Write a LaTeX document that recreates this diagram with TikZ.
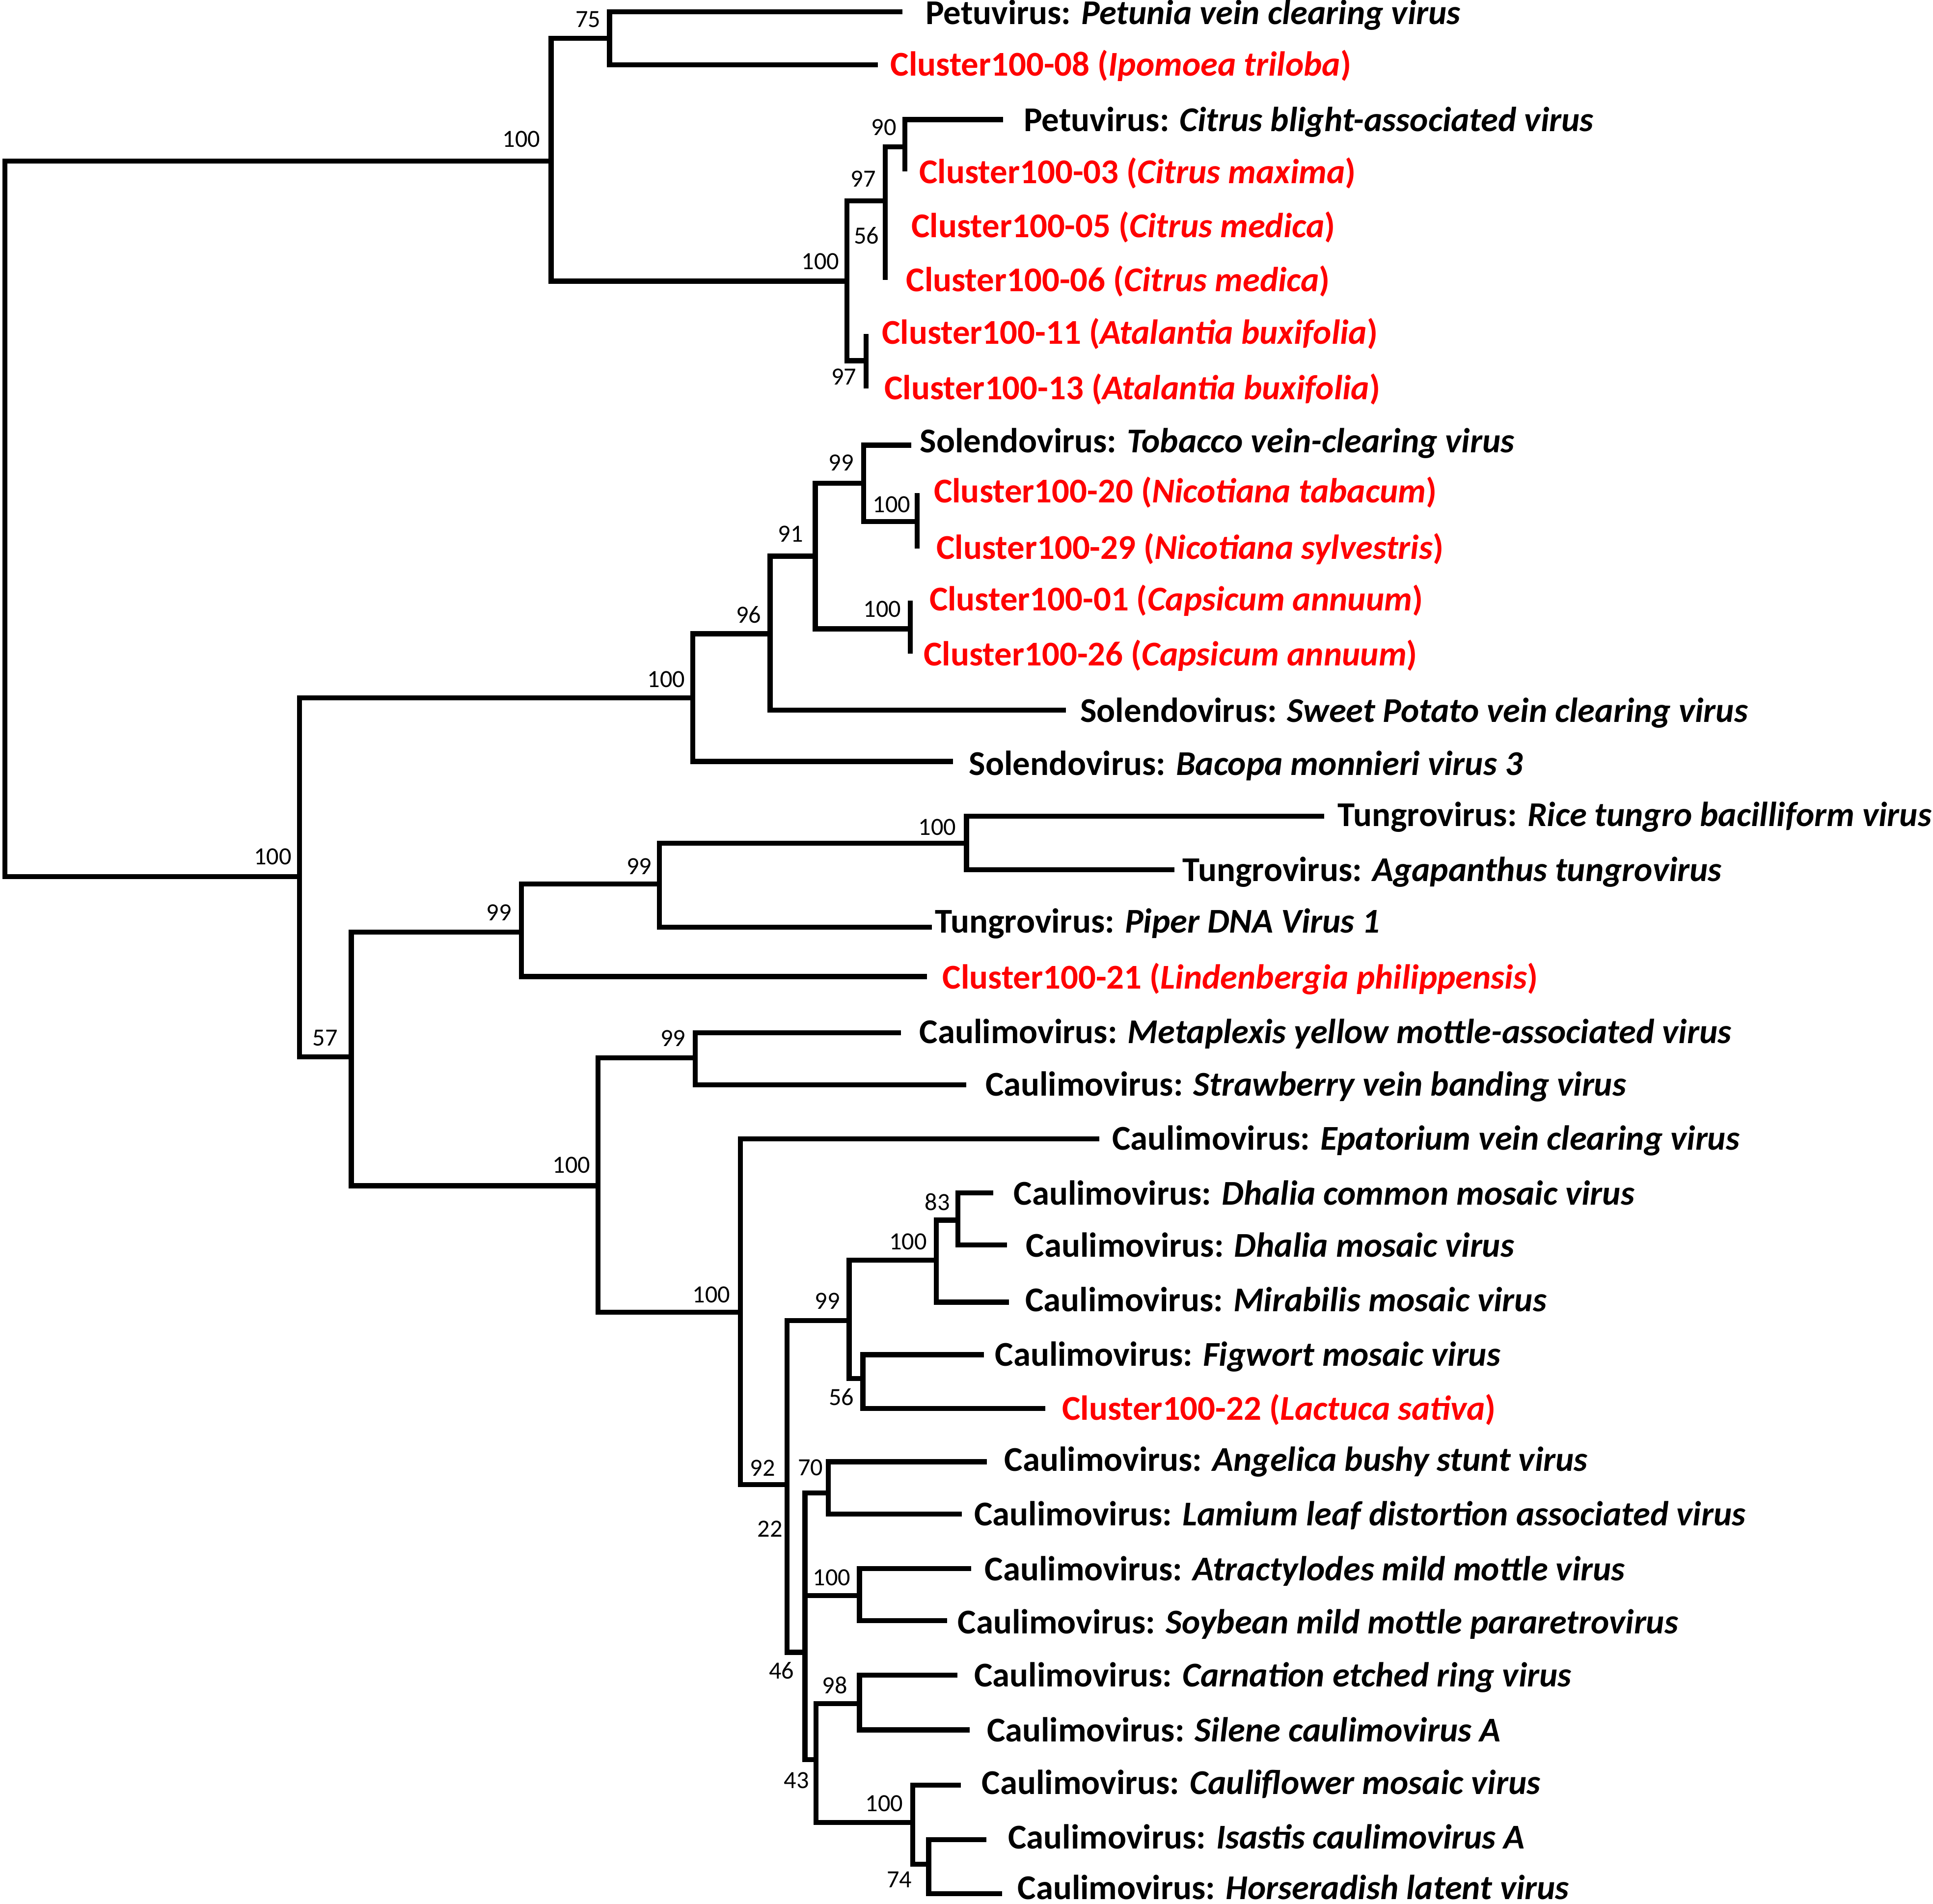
\documentclass[tikz,border=0pt]{standalone}
\usepackage{fontspec}
\setmainfont{Carlito}
\usepackage{tikz}
\tikzset{
	branch/.style={line width=0.082cm, line join=miter},
	leaflab/.style={anchor=base west, inner sep=0pt, font=\fontsize{16.05}{19}\selectfont\bfseries},
	cluster/.style={leaflab, text=red},
	boot/.style={inner sep=0pt, font=\fontsize{11.4}{13}\selectfont},
}

\begin{document}
\begin{tikzpicture}[x=0.02cm, y=-0.02cm]
		%%%%% START %%%%%
		\useasboundingbox (0, 0) rectangle (1568, 1544);
		
		% inner nodes of the tree
		\coordinate (root) at (4, 420);
		\coordinate (A) at (447, 130.5);
		\coordinate (n75) at (494.5, 31);
		\coordinate (c100) at (687, 228);
		\coordinate (n97a) at (718, 163);
		\coordinate (n90) at (734, 119);
		\coordinate (n97b) at (702.6, 292.5);
		\coordinate (M) at (243, 711);
		\coordinate (s100) at (562, 566);
		\coordinate (n96) at (624.7, 514);
		\coordinate (n91) at (661.3, 451);
		\coordinate (n99s) at (700.5, 392);
		\coordinate (nNic) at (744, 423);
		\coordinate (nCap) at (738.5, 510);
		\coordinate (n57) at (285, 857);
		\coordinate (t99) at (423, 756);
		\coordinate (t99b) at (535, 717);
		\coordinate (t100) at (784, 683.7);
		\coordinate (cau100) at (485, 961.6);
		\coordinate (cau99) at (564, 858);
		\coordinate (d100) at (600.5, 1064.3);
		\coordinate (n92) at (638.5, 1204);
		\coordinate (n99c) at (688.8, 1071);
		\coordinate (n100d) at (759.5, 1022);
		\coordinate (n83) at (777, 989.5);
		\coordinate (n56c) at (700, 1118);
		\coordinate (n46) at (653, 1340);
		\coordinate (n22) at (653, 1252);
		\coordinate (n70) at (672, 1210.6);
		\coordinate (nAt) at (697.2, 1294);
		\coordinate (n43) at (662, 1427);
		\coordinate (n98) at (697.2, 1381.7);
		\coordinate (nCa) at (740.4, 1478);
		\coordinate (n74) at (753.3, 1511.7);
		
		% tips
		\coordinate (L1) at (732, 9.5);
		\coordinate (L2) at (712, 52.7);
		\coordinate (L3) at (813.5, 97);
		\coordinate (L4) at (734, 139);
		\coordinate (L5) at (718, 185);
		\coordinate (L6) at (718, 227);
		\coordinate (L7) at (702.6, 271);
		\coordinate (L8) at (702.6, 315);
		\coordinate (L9) at (739, 361);
		\coordinate (L10) at (744, 400);
		\coordinate (L11) at (744, 445);
		\coordinate (L12) at (738.5, 487);
		\coordinate (L13) at (738.5, 530);
		\coordinate (L14) at (864.7, 576);
		\coordinate (L15) at (773, 617.5);
		\coordinate (L16) at (1074, 661.8);
		\coordinate (L17) at (952.6, 705.3);
		\coordinate (L18) at (755.8, 752);
		\coordinate (L19) at (751.9, 792);
		\coordinate (L20) at (731, 837.5);
		\coordinate (L21) at (783.7, 879.7);
		\coordinate (L22) at (891.7, 923.7);
		\coordinate (L23) at (805.5, 967.5);
		\coordinate (L24) at (816.8, 1009.5);
		\coordinate (L25) at (818.5, 1056);
		\coordinate (L26) at (798, 1098.6);
		\coordinate (L27) at (848, 1142.3);
		\coordinate (L28) at (800.5, 1185.5);
		\coordinate (L29) at (780.3, 1228);
		\coordinate (L30) at (787.7, 1272);
		\coordinate (L31) at (768.3, 1314.3);
		\coordinate (L32) at (776.6, 1358.4);
		\coordinate (L33) at (786.5, 1402.9);
		\coordinate (L34) at (779.3, 1447.6);
		\coordinate (L35) at (800.2, 1491.8);
		\coordinate (L36) at (812.7, 1535.6);
		
		% branches
		\draw[branch] (root) |- (A) (root) |- (M);
		\draw[branch] (A) |- (n75) (A) |- (c100);
		\draw[branch] (n75) |- (L1) (n75) |- (L2);
		\draw[branch] (c100) |- (n97a) (c100) |- (n97b);
		\draw[branch] (n97a) |- (n90) (n97a) -- (L5) (n97a) -- (L6);
		\draw[branch] (n90) |- (L3) (n90) -- (L4);
		\draw[branch] (n97b) -- (L7) (n97b) -- (L8);
		
		\draw[branch] (M) |- (s100) (M) |- (n57);
		\draw[branch] (s100) |- (n96) (s100) |- (L15);
		\draw[branch] (n96) |- (n91) (n96) |- (L14);
		\draw[branch] (n91) |- (n99s) (n91) |- (nCap);
		\draw[branch] (n99s) |- (L9) (n99s) |- (nNic);
		\draw[branch] (nNic) -- (L10) (nNic) -- (L11);
		\draw[branch] (nCap) -- (L12) (nCap) -- (L13);
		
		\draw[branch] (n57) |- (t99) (n57) |- (cau100);
		\draw[branch] (t99) |- (t99b) (t99) |- (L19);
		\draw[branch] (t99b) |- (t100) (t99b) |- (L18);
		\draw[branch] (t100) |- (L16) (t100) |- (L17);
		
		\draw[branch] (cau100) |- (cau99) (cau100) |- (d100);
		\draw[branch] (cau99) |- (L20) (cau99) |- (L21);
		\draw[branch] (d100) |- (L22) (d100) |- (n92);
		\draw[branch] (n92) |- (n99c) (n92) |- (n46);
		\draw[branch] (n99c) |- (n100d) (n99c) |- (n56c);
		\draw[branch] (n100d) |- (n83) (n100d) |- (L25);
		\draw[branch] (n83) |- (L23) (n83) |- (L24);
		\draw[branch] (n56c) |- (L26) (n56c) |- (L27);
		\draw[branch] (n46) -- (n22) (n46) |- (n43);
		\draw[branch] (n22) |- (n70) (n22) |- (nAt);
		\draw[branch] (n70) |- (L28) (n70) |- (L29);
		\draw[branch] (nAt) |- (L30) (nAt) |- (L31);
		\draw[branch] (n43) |- (n98) (n43) |- (nCa);
		\draw[branch] (n98) |- (L32) (n98) |- (L33);
		\draw[branch] (nCa) |- (L34) (nCa) |- (n74);
		\draw[branch] (n74) |- (L35) (n74) |- (L36);
		
		% bootstrap values
		\node[boot] (bA) at (423, 113) {100};
		\node[boot] (b75) at (477, 15.8) {75};
		\node[boot] (b90) at (717, 103.3) {90};
		\node[boot] (b97a) at (700.3, 145.2) {97};
		\node[boot] (b56) at (702.8, 191) {56};
		\node[boot] (bc100) at (665.5, 212) {100};
		\node[boot] (b97b) at (684.6, 305.4) {97};
		\node[boot] (bM) at (221.3, 694.7) {100};
		\node[boot] (bs100) at (540.4, 550.8) {100};
		\node[boot] (b96) at (607.2, 498.7) {96};
		\node[boot] (b91) at (641.4, 433.1) {91};
		\node[boot] (b99s) at (682.3, 375.2) {99};
		\node[boot] (bNic) at (723.3, 409.3) {100};
		\node[boot] (bCap) at (715.6, 493.9) {100};
		\node[boot] (b57) at (263.8, 841.8) {57};
		\node[boot] (bt99) at (404.7, 739.9) {99};
		\node[boot] (bt99b) at (518.5, 702.7) {99};
		\node[boot] (bt100) at (760.3, 671) {100};
		\node[boot] (bcau100) at (463.6, 945) {100};
		\node[boot] (bcau99) at (546, 842) {99};
		\node[boot] (bd100) at (577, 1050) {100};
		\node[boot] (b83) at (760.3, 974.6) {83};
		\node[boot] (b100d) at (736.6, 1006.8) {100};
		\node[boot] (b99c) at (671.2, 1055) {99};
		\node[boot] (b56c) at (682.5, 1132.9) {56};
		\node[boot] (b92) at (618.6, 1190.4) {92};
		\node[boot] (b70) at (657.4, 1190) {70};
		\node[boot] (b22) at (624.5, 1239.8) {22};
		\node[boot] (bAt) at (674.6, 1279.3) {100};
		\node[boot] (b46) at (633.9, 1354.8) {46};
		\node[boot] (b98) at (677.2, 1366.8) {98};
		\node[boot] (b43) at (646, 1443.7) {43};
		\node[boot] (bCa) at (717.3, 1462.7) {100};
		\node[boot] (b74) at (729.5, 1524.5) {74};
		
		% tip labels
		\node[leaflab] (t1) at (750.5, 19.8) {Petuvirus: \textit{Petunia vein clearing virus}};
		\node[cluster] (t2) at (722, 61.4) {Cluster100-08 (\textit{Ipomoea triloba})};
		\node[leaflab] (t3) at (830.2, 106.6) {Petuvirus: \textit{Citrus blight-associated virus}};
		\node[cluster] (t4) at (745.4, 148.9) {Cluster100-03 (\textit{Citrus maxima})};
		\node[cluster] (t5) at (739, 192.7) {Cluster100-05 (\textit{Citrus medica})};
		\node[cluster] (t6) at (734.7, 236.4) {Cluster100-06 (\textit{Citrus medica})};
		\node[cluster] (t7) at (715, 279.1) {Cluster100-11 (\textit{Atalantia buxifolia})};
		\node[cluster] (t8) at (717, 323.9) {Cluster100-13 (\textit{Atalantia buxifolia})};
		\node[leaflab] (t9) at (746, 367.2) {Solendovirus: \textit{Tobacco vein-clearing virus}};
		\node[cluster] (t10) at (757.2, 407.8) {Cluster100-20 (\textit{Nicotiana tabacum})};
		\node[cluster] (t11) at (759.3, 453.6) {Cluster100-29 (\textit{Nicotiana sylvestris})};
		\node[cluster] (t12) at (753.6, 495.3) {Cluster100-01 (\textit{Capsicum annuum})};
		\node[cluster] (t13) at (749, 540) {Cluster100-26 (\textit{Capsicum annuum})};
		\node[leaflab] (t14) at (876, 585.8) {Solendovirus: \textit{Sweet Potato vein clearing virus}};
		\node[leaflab] (t15) at (785.7, 628.5) {Solendovirus: \textit{Bacopa monnieri virus 3}};
		\node[leaflab] (t16) at (1084.8, 670.2) {Tungrovirus: \textit{Rice tungro bacilliform virus}};
		\node[leaflab] (t17) at (959, 714.7) {Tungrovirus: \textit{Agapanthus tungrovirus}};
		\node[leaflab] (t18) at (758.3, 756.6) {Tungrovirus: \textit{Piper DNA Virus 1}};
		\node[cluster] (t19) at (764.2, 801.8) {Cluster100-21 (\textit{Lindenbergia philippensis})};
		\node[leaflab] (t20) at (745.6, 846) {Caulimovirus: \textit{Metaplexis yellow mottle-associated virus}};
		\node[leaflab] (t21) at (799, 888.7) {Caulimovirus: \textit{Strawberry vein banding virus}};
		\node[leaflab] (t22) at (901.9, 932.6) {Caulimovirus: \textit{Epatorium vein clearing virus}};
		\node[leaflab] (t23) at (821.9, 977) {Caulimovirus: \textit{Dhalia common mosaic virus}};
		\node[leaflab] (t24) at (832, 1019.5) {Caulimovirus: \textit{Dhalia mosaic virus}};
		\node[leaflab] (t25) at (831.3, 1063.5) {Caulimovirus: \textit{Mirabilis mosaic virus}};
		\node[leaflab] (t26) at (806.8, 1107.6) {Caulimovirus: \textit{Figwort mosaic virus}};
		\node[cluster] (t27) at (861.2, 1151.5) {Cluster100-22 (\textit{Lactuca sativa})};
		\node[leaflab] (t28) at (814.4, 1193) {Caulimovirus: \textit{Angelica bushy stunt virus}};
		\node[leaflab] (t29) at (790, 1237.4) {Caulimovirus: \textit{Lamium leaf distortion associated virus}};
		\node[leaflab] (t30) at (798.5, 1282) {Caulimovirus: \textit{Atractylodes mild mottle virus}};
		\node[leaflab] (t31) at (776.6, 1324.8) {Caulimovirus: \textit{Soybean mild mottle pararetrovirus}};
		\node[leaflab] (t32) at (790, 1368) {Caulimovirus: \textit{Carnation etched ring virus}};
		\node[leaflab] (t33) at (800.2, 1412.3) {Caulimovirus: \textit{Silene caulimovirus A}};
		\node[leaflab] (t34) at (796.1, 1455.2) {Caulimovirus: \textit{Cauliflower mosaic virus}};
		\node[leaflab] (t35) at (817.5, 1499.4) {Caulimovirus: \textit{Isastis caulimovirus A}};
		\node[leaflab] (t36) at (825.1, 1540.5) {Caulimovirus: \textit{Horseradish latent virus}};
		
		%%%%% END %%%%%
	\end{tikzpicture}
\end{document}
